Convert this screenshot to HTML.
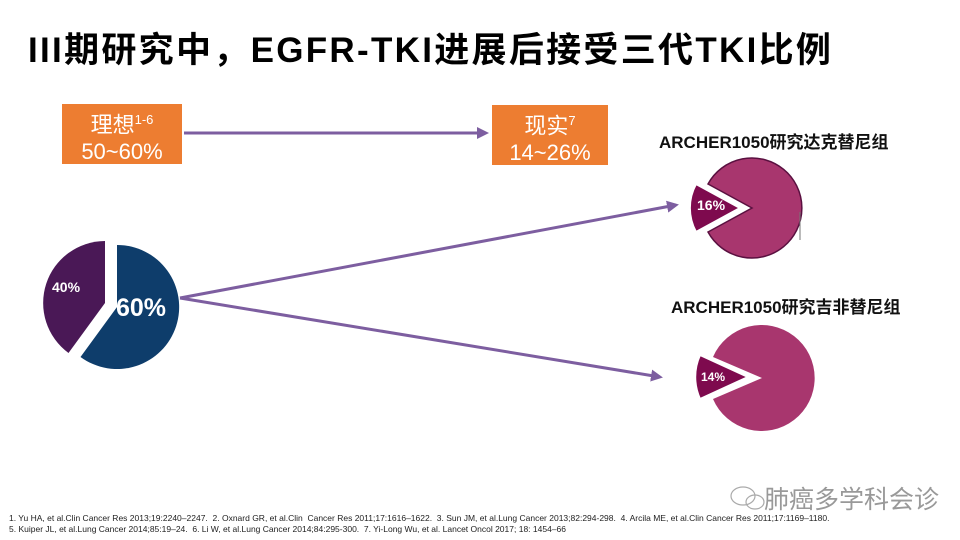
<!DOCTYPE html>
<html><head><meta charset="utf-8"><style>
body{margin:0;width:960px;height:540px;background:#fff;overflow:hidden;position:relative;font-family:"Liberation Sans","Noto Sans CJK SC",sans-serif}
.t{position:absolute;white-space:nowrap}
.box{position:absolute;background:#ed7d31;color:#fff;text-align:center;font-size:22px;line-height:27px}
</style></head><body>
<div class="t" style="left:28px;top:22px;font-size:35px;font-weight:bold;color:#000;letter-spacing:2.3px">III期研究中，EGFR-TKI进展后接受三代TKI比例</div>
<div class="box" style="left:62px;top:104px;width:120px;height:60px;padding-top:2px;box-sizing:border-box">理想<sup style="font-size:13px">1-6</sup><br>50~60%</div>
<div class="box" style="left:492px;top:105px;width:116px;height:60px;padding-top:2px;box-sizing:border-box">现实<sup style="font-size:13px">7</sup><br>14~26%</div>
<div class="t" style="left:659px;top:128px;font-size:17px;font-weight:bold;color:#111">ARCHER1050研究达克替尼组</div>
<div class="t" style="left:671px;top:293px;font-size:17px;font-weight:bold;color:#111">ARCHER1050研究吉非替尼组</div>
<svg width="960" height="540" style="position:absolute;left:0;top:0">
<defs><marker id="a" markerWidth="4" markerHeight="4" refX="3" refY="2" orient="auto" markerUnits="strokeWidth"><path d="M0,0 L4,2 L0,4 z" fill="#7d5ea0"/></marker></defs>
<g stroke="#7d5ea0" stroke-width="3" fill="none">
<line x1="184" y1="133" x2="486" y2="133" marker-end="url(#a)"/>
<line x1="180" y1="298" x2="676" y2="205" marker-end="url(#a)"/>
<line x1="180" y1="298" x2="660" y2="377" marker-end="url(#a)"/>
</g>
<path d="M117,307 L117,245 A62,62 0 1,1 80.5,357 Z" fill="#0e3d6b"/>
<path d="M105,303 L68.5,353 A62,62 0 0,1 105,241 Z" fill="#4a1856"/>
<text x="116" y="316" font-size="25" font-weight="bold" fill="#fff" font-family="Liberation Sans">60%</text>
<text x="52" y="292" font-size="14" font-weight="bold" fill="#fff" font-family="Liberation Sans">40%</text>
<path d="M752,208 L708,184 A50,50 0 1,1 708,232 Z" fill="#a8366e" stroke="#5a1040" stroke-width="1.5"/>
<line x1="800" y1="212" x2="800" y2="240" stroke="#777" stroke-width="1"/>
<path d="M740,208 L696,184 A50,50 0 0,0 696,232 Z" fill="#7e0a4e" stroke="#fff" stroke-width="2"/>
<text x="697" y="210" font-size="14" font-weight="bold" fill="#fff" font-family="Liberation Sans">16%</text>
<path d="M762,378 L713,357 A53,53 0 1,1 713,399 Z" fill="#a8366e"/>
<path d="M748,377 L700,355 A53,53 0 0,0 700,399 Z" fill="#7e0a4e" stroke="#fff" stroke-width="2"/>
<text x="701" y="381" font-size="12" font-weight="bold" fill="#fff" font-family="Liberation Sans">14%</text>
<g fill="none" stroke="#aaa" stroke-width="1.2"><ellipse cx="743" cy="496" rx="12" ry="9"/><ellipse cx="755" cy="502" rx="9" ry="7"/></g>
</svg>
<div class="t" style="left:764px;top:480px;font-size:25px;color:#999">肺癌多学科会诊</div>
<div class="t" style="left:9px;top:513px;font-size:8.5px;color:#222;line-height:11px">1. Yu HA, et al.Clin Cancer Res 2013;19:2240–2247.&nbsp;&nbsp;2. Oxnard GR, et al.Clin&nbsp; Cancer Res 2011;17:1616–1622.&nbsp;&nbsp;3. Sun JM, et al.Lung Cancer 2013;82:294-298.&nbsp;&nbsp;4. Arcila ME, et al.Clin Cancer Res 2011;17:1169–1180.<br>5. Kuiper JL, et al.Lung Cancer 2014;85:19–24.&nbsp;&nbsp;6. Li W, et al.Lung Cancer 2014;84:295-300.&nbsp;&nbsp;7. Yi-Long Wu, et al. Lancet Oncol 2017; 18: 1454–66</div>
</body></html>
